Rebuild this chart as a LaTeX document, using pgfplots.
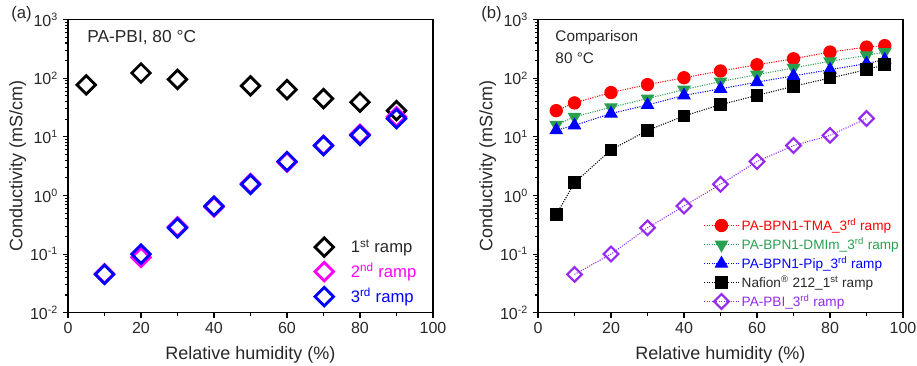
\documentclass[border=0pt]{standalone}
\usepackage{fontspec}
\setmainfont{Liberation Sans}
\usepackage{pgfplots}
\pgfplotsset{compat=1.18}
\definecolor{cgreen}{RGB}{40,160,80}
\definecolor{cpurple}{RGB}{150,40,240}
\definecolor{ctext}{RGB}{40,40,40}
\definecolor{cmag}{RGB}{255,0,255}
\begin{document}
\begin{tikzpicture}
\path[use as bounding box] (-51pt,-40pt) rectangle (636.75pt,234.5pt);
\begin{axis}[at={(0,0)}, anchor=south west,
    width=273.75pt, height=219.75pt, scale only axis,
    xmin=0,xmax=100, ymode=log, ymin=1e-2, ymax=1e3,
    xtick={0,20,...,100}, minor xtick={10,30,...,90},
    ytick={1e-2,1e-1,1,10,100,1000},
    yticklabels={10\textsuperscript{-2},10\textsuperscript{-1},10\textsuperscript{0},10\textsuperscript{1},10\textsuperscript{2},10\textsuperscript{3}},
    xtick pos=bottom, ytick pos=left, tick align=outside,
    major tick length=4pt, minor tick length=2.2pt,
    axis line style={line width=1pt},
    tick style={line width=0.8pt, black},
    tick label style={font=\fontsize{12}{12}\selectfont, text=ctext},
    /pgf/number format/assume math mode=true,
    label style={font=\fontsize{13.5}{14}\selectfont, text=ctext},
    xlabel={Relative humidity (\%)},
    ylabel={Conductivity (mS/cm)},
    xlabel style={yshift=-2.5pt},
    ylabel style={yshift=-4pt},
    legend cell align=left,
    clip=false,
  legend style={draw=none, fill=none, at={(0.665,0.008)}, anchor=south west,
    font=\fontsize{12.5}{13}\selectfont, row sep=2.5pt,
    /tikz/every odd column/.append style={column sep=11pt}},
  ]
\addplot[only marks, black, mark=square, mark size=4.9pt, mark options={rotate=45, line width=2.1pt}]
 coordinates {(5,77) (20,123) (30,96) (50,74) (60,64) (70,45) (80,39) (90,28)};
\addlegendentry{\textcolor{ctext}{1\textsuperscript{st} ramp}}
\addplot[only marks, cmag, mark=square, mark size=4.9pt, mark options={rotate=45, line width=2.1pt}]
 coordinates {(10,0.046) (20,0.088) (30,0.29) (40,0.64) (50,1.6) (60,3.7) (70,7.2) (80,11) (90,22)};
\addlegendentry{\textcolor{cmag}{2\textsuperscript{nd} ramp}}
\addplot[only marks, blue, mark=square, mark size=4.9pt, mark options={rotate=45, line width=2.1pt}]
 coordinates {(10,0.045) (20,0.10) (30,0.28) (40,0.66) (50,1.55) (60,3.8) (70,7.1) (80,10.6) (90,20.5)};
\addlegendentry{\textcolor{blue}{3\textsuperscript{rd} ramp}}
\node[anchor=west, font=\fontsize{13}{13}\selectfont, text=ctext] at (rel axis cs:0.04,0.94) {PA-PBI, 80 °C};
\node[anchor=west, font=\fontsize{12.5}{13}\selectfont, text=ctext] at (rel axis cs:-0.168,1.02) {(a)};
\end{axis}
\begin{axis}[at={(352.5pt,0)}, anchor=south west,
    width=273.75pt, height=219.75pt, scale only axis,
    xmin=0,xmax=100, ymode=log, ymin=1e-2, ymax=1e3,
    xtick={0,20,...,100}, minor xtick={10,30,...,90},
    ytick={1e-2,1e-1,1,10,100,1000},
    yticklabels={10\textsuperscript{-2},10\textsuperscript{-1},10\textsuperscript{0},10\textsuperscript{1},10\textsuperscript{2},10\textsuperscript{3}},
    xtick pos=bottom, ytick pos=left, tick align=outside,
    major tick length=4pt, minor tick length=2.2pt,
    axis line style={line width=1pt},
    tick style={line width=0.8pt, black},
    tick label style={font=\fontsize{12}{12}\selectfont, text=ctext},
    /pgf/number format/assume math mode=true,
    label style={font=\fontsize{13.5}{14}\selectfont, text=ctext},
    xlabel={Relative humidity (\%)},
    ylabel={Conductivity (mS/cm)},
    xlabel style={yshift=-2.5pt},
    ylabel style={yshift=-4pt},
    legend cell align=left,
    clip=false,
  legend style={draw=none, fill=none, at={(1.0,0.0)}, anchor=south east,
    font=\fontsize{10.2}{10.2}\selectfont, row sep=0pt, inner sep=1pt},
  legend image code/.code={
    \draw[mark repeat=2,mark phase=2] plot coordinates {(0cm,0cm) (0.45cm,0cm) (0.9cm,0cm)};},
  ]
\addplot[red, densely dotted, line width=0.8pt, mark=*, mark size=4.6pt, mark options={solid, fill=red}]
 coordinates {(5,28) (10,38) (20,57) (30,78) (40,102) (50,133) (60,170) (70,215) (80,280) (90,340) (95,360)};
\addlegendentry{\textcolor{red}{PA-BPN1-TMA\_3\textsuperscript{rd} ramp}}
\addplot[cgreen, densely dotted, line width=0.8pt, mark=triangle*, mark size=5.2pt, mark options={solid, fill=cgreen, rotate=180}]
 coordinates {(5,16) (10,22) (20,32) (30,45) (40,64) (50,88) (60,115) (70,150) (80,195) (90,245) (95,280)};
\addlegendentry{\textcolor{cgreen}{PA-BPN1-DMIm\_3\textsuperscript{rd} ramp}}
\addplot[blue, densely dotted, line width=0.8pt, mark=triangle*, mark size=5.2pt, mark options={solid, fill=blue}]
 coordinates {(5,13) (10,15.7) (20,25) (30,35) (40,51) (50,66) (60,86) (70,110) (80,140) (90,178) (95,207)};
\addlegendentry{\textcolor{blue}{PA-BPN1-Pip\_3\textsuperscript{rd} ramp}}
\addplot[black, densely dotted, line width=0.8pt, mark=square*, mark size=4.3pt, mark options={solid, fill=black}]
 coordinates {(5,0.47) (10,1.65) (20,6.0) (30,12.9) (40,22.7) (50,35.5) (60,51) (70,73) (80,101) (90,140) (95,170)};
\addlegendentry{\textcolor{ctext}{Nafion\textsuperscript{®} 212\_1\textsuperscript{st} ramp}}
\addplot[cpurple, densely dotted, line width=0.8pt, mark=square, mark size=3.9pt, mark options={solid, rotate=45, line width=1.6pt}]
 coordinates {(10,0.045) (20,0.10) (30,0.28) (40,0.66) (50,1.55) (60,3.8) (70,7.1) (80,10.6) (90,20.5)};
\addlegendentry{\textcolor{cpurple}{PA-PBI\_3\textsuperscript{rd} ramp}}
\node[anchor=west, font=\fontsize{11.5}{11.5}\selectfont, text=ctext] at (rel axis cs:0.035,0.94) {Comparison};
\node[anchor=west, font=\fontsize{11.5}{11.5}\selectfont, text=ctext] at (rel axis cs:0.035,0.87) {80 °C};
\node[anchor=west, font=\fontsize{12.5}{13}\selectfont, text=ctext] at (rel axis cs:-0.168,1.02) {(b)};
\end{axis}
\end{tikzpicture}
\end{document}
